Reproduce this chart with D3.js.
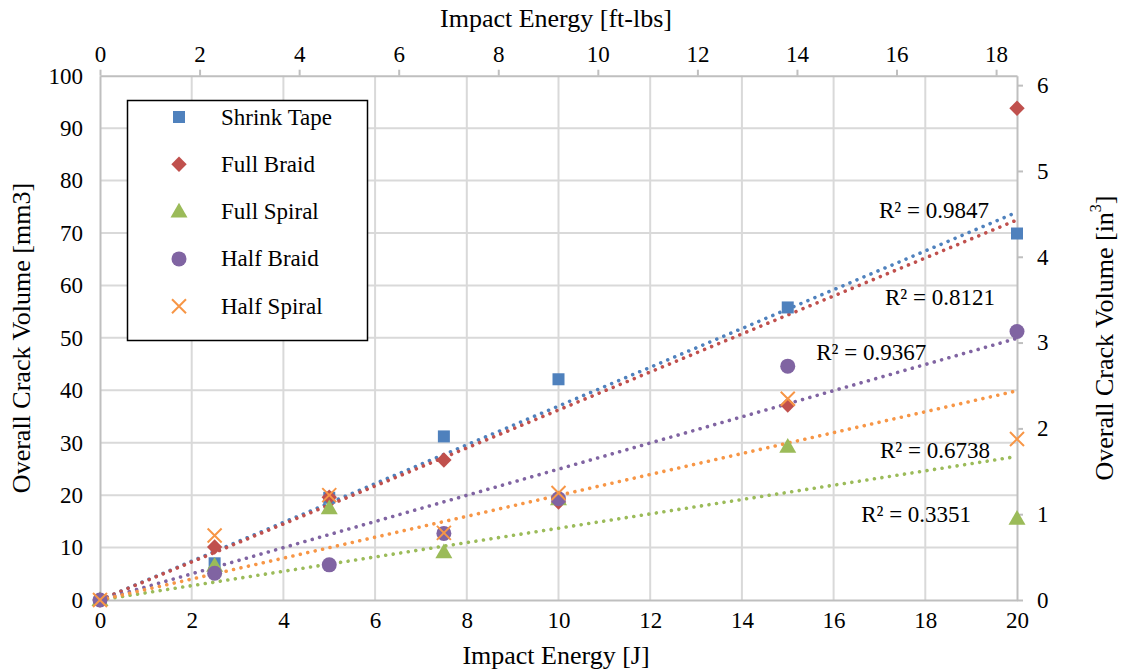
<!DOCTYPE html>
<html><head><meta charset="utf-8">
<script src="https://cdn.jsdelivr.net/npm/d3@7"></script>
<style>body{margin:0;background:#fff}svg{display:block}text{font-family:"Liberation Serif","Times New Roman",serif;fill:#000}</style>
</head><body><svg id="c" width="1125" height="669"></svg>
<script>
const energyJ = [0, 2.5, 5, 7.5, 10, 15, 20];
const seriesNames = ["Shrink Tape", "Full Braid", "Full Spiral", "Half Braid", "Half Spiral"];
const shrinkTape = [0, 7.0, 19.5, 31.2, 42.1, 55.8, 69.9];
const fullBraid  = [0, 10.1, 19.6, 26.7, 18.7, 37.2, 93.8];
const fullSpiral = [0, 6.5, 17.5, 9.1, 19.2, 29.2, 15.5];
const halfBraid  = [0, 5.1, 6.7, 12.7, 19.3, 44.6, 51.2];
const halfSpiral = [0, 12.3, 20.0, 12.8, 20.4, 38.4, 30.7];
const r2Labels = ["R² = 0.9847", "R² = 0.8121", "R² = 0.6738", "R² = 0.9367", "R² = 0.3351"];
const r2Pos = [[18.19, 74.3], [18.32, 57.7], [18.21, 28.6], [16.82, 47.2], [17.80, 16.4]]; // label anchor in data units
const xTicks = [0, 2, 4, 6, 8, 10, 12, 14, 16, 18, 20];
const yTicks = [0, 10, 20, 30, 40, 50, 60, 70, 80, 90, 100];
const topTicks = [0, 2, 4, 6, 8, 10, 12, 14, 16, 18];
const rightTicks = [0, 1, 2, 3, 4, 5, 6];
const colors = ["#4F81BD", "#C0504D", "#9BBB59", "#8064A2", "#F79646"];

const allSeries = [shrinkTape, fullBraid, fullSpiral, halfBraid, halfSpiral];
const L = 100, R = 1017, T = 75.7, B = 600;
const FONT = '"Liberation Serif","Times New Roman",serif';
const svg = d3.select("#c");
const x = d3.scaleLinear().domain([0, 20]).range([L, R]);
const y = d3.scaleLinear().domain([0, 100]).range([B, T]);
const xTop = d3.scaleLinear().domain([0, 18.42]).range([L, R]);
const yRight = d3.scaleLinear().domain([0, 6.11]).range([B, T]);

const grid = svg.append("g");
grid.selectAll(".vg").data(xTicks.slice(1, -1)).join("line")
  .attr("x1", d => x(d)).attr("x2", d => x(d)).attr("y1", T).attr("y2", B)
  .attr("stroke", "#D9D9D9").attr("stroke-width", 2);
grid.selectAll(".hg").data(yTicks.slice(1, -1)).join("line")
  .attr("x1", L).attr("x2", R).attr("y1", d => y(d)).attr("y2", d => y(d))
  .attr("stroke", "#D9D9D9").attr("stroke-width", 2);

const fs = 23;
function styleAxis(g) {
  g.attr("font-family", FONT);
  g.select(".domain").attr("stroke", "#BFBFBF").attr("stroke-width", 2);
  g.selectAll(".tick line").attr("stroke", "#BFBFBF").attr("stroke-width", 2);
  g.selectAll("text").attr("font-size", fs).style("font-family", FONT).attr("fill", "#000");
}
const fmt = d3.format("d");
svg.append("g").attr("transform", `translate(0,${B})`)
  .call(d3.axisBottom(x).tickValues(xTicks).tickFormat(fmt).tickSize(0).tickPadding(12).tickSizeOuter(0))
  .call(styleAxis);
svg.append("g").attr("transform", `translate(${L},0)`)
  .call(d3.axisLeft(y).tickValues(yTicks).tickFormat(fmt).tickSize(0).tickPadding(17).tickSizeOuter(0))
  .call(styleAxis);
svg.append("g").attr("transform", `translate(0,${T})`)
  .call(d3.axisTop(xTop).tickValues(topTicks).tickFormat(fmt).tickSize(6).tickPadding(8).tickSizeOuter(0))
  .call(styleAxis);
svg.append("g").attr("transform", `translate(${R},0)`)
  .call(d3.axisRight(yRight).tickValues(rightTicks).tickFormat(fmt).tickSize(6).tickPadding(14).tickSizeOuter(0))
  .call(styleAxis);

// trendlines (linear, zero intercept)
const line = d3.line().x(d => x(d[0])).y(d => y(d[1]));
allSeries.forEach((s, i) => {
  const sxy = d3.sum(energyJ, (e, k) => e * s[k]);
  const sxx = d3.sum(energyJ, e => e * e);
  const m = sxy / sxx;
  svg.append("path").datum([[0, 0], [20, 20 * m]]).attr("d", line)
    .attr("fill", "none").attr("stroke", colors[i]).attr("stroke-width", 3.6)
    .attr("stroke-linecap", "round").attr("stroke-dasharray", "0.01 7.6");
});

function drawMarker(g, i, cx, cy) {
  const c = colors[i];
  if (i === 0) g.append("rect").attr("x", cx - 6).attr("y", cy - 6).attr("width", 12).attr("height", 12).attr("fill", c);
  else if (i === 1) g.append("path").attr("d", d3.symbol(d3.symbolSquare, 118)()).attr("transform", `translate(${cx},${cy}) rotate(45)`).attr("fill", c);
  else if (i === 2) g.append("path").attr("d", d3.symbol(d3.symbolTriangle, 125)()).attr("transform", `translate(${cx},${cy + 1})`).attr("fill", c);
  else if (i === 3) g.append("circle").attr("cx", cx).attr("cy", cy).attr("r", 7.5).attr("fill", c);
  else {
    const h = 7;
    g.append("path").attr("d", `M${cx - h},${cy - h}L${cx + h},${cy + h}M${cx - h},${cy + h}L${cx + h},${cy - h}`)
      .attr("stroke", c).attr("stroke-width", 2).attr("fill", "none");
  }
}
const mg = svg.append("g");
allSeries.forEach((s, i) => {
  s.forEach((v, k) => drawMarker(mg, i, x(energyJ[k]), y(v)));
});

r2Labels.forEach((t, j) => {
  const p = r2Pos[j];
  svg.append("text").attr("x", x(p[0])).attr("y", y(p[1])).attr("text-anchor", "middle")
    .attr("dominant-baseline", "central").attr("font-size", fs).text(t);
});

const lg = svg.append("g");
lg.append("rect").attr("x", 127.5).attr("y", 100.5).attr("width", 240).attr("height", 240)
  .attr("fill", "#fff").attr("stroke", "#000").attr("stroke-width", 1.5);
seriesNames.forEach((n, i) => {
  const yy = 117 + i * 47.3;
  drawMarker(lg, i, 179, yy);
  lg.append("text").attr("x", 221).attr("y", yy).attr("dominant-baseline", "central")
    .attr("font-size", fs).text(n);
});

svg.append("text").attr("x", 556).attr("y", 655).attr("text-anchor", "middle").attr("dominant-baseline", "central")
  .attr("font-size", 26).text("Impact Energy [J]");
svg.append("text").attr("x", 556).attr("y", 18).attr("text-anchor", "middle").attr("dominant-baseline", "central")
  .attr("font-size", 26).text("Impact Energy [ft-lbs]");
svg.append("text").attr("transform", "translate(21,338) rotate(-90)").attr("text-anchor", "middle")
  .attr("dominant-baseline", "central").attr("font-size", 26).text("Overall Crack Volume [mm3]");
const rt = svg.append("text").attr("transform", "translate(1104,338) rotate(-90)").attr("text-anchor", "middle")
  .attr("dominant-baseline", "central").attr("font-size", 26);
rt.append("tspan").text("Overall Crack Volume [in");
rt.append("tspan").attr("font-size", 16).attr("dy", -9).text("3");
rt.append("tspan").attr("dy", 9).text("]");
</script></body></html>
